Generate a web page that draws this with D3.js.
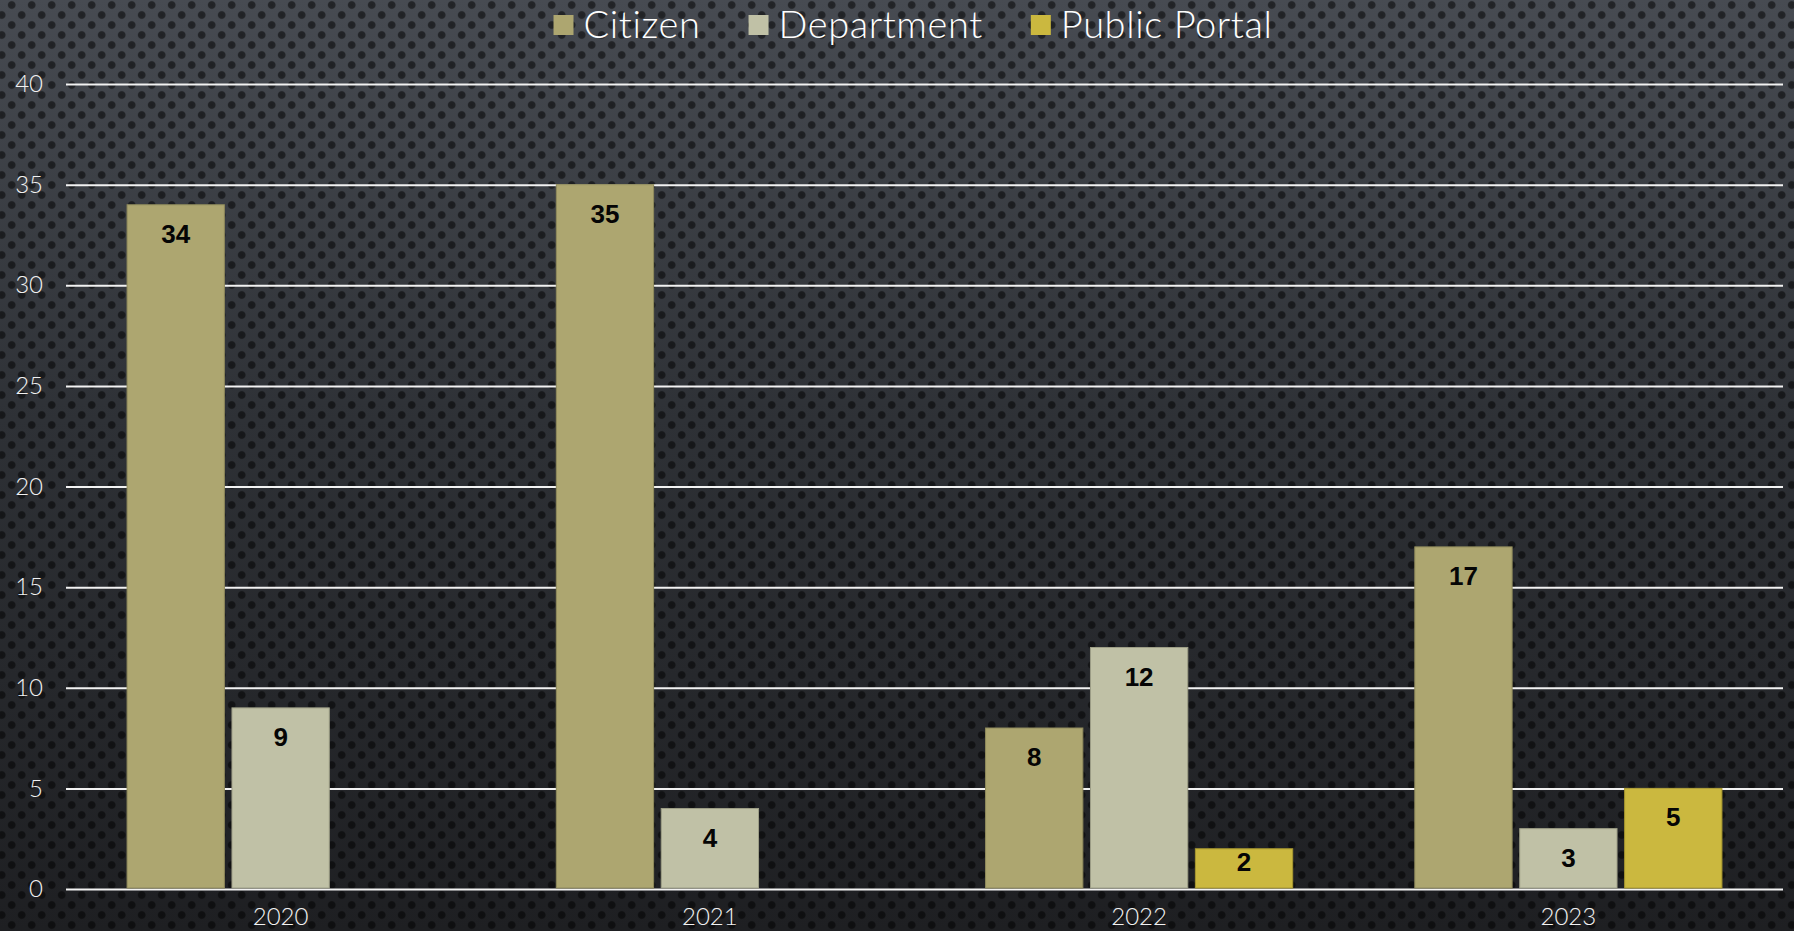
<!DOCTYPE html>
<html>
<head>
<meta charset="utf-8">
<script src="https://cdn.jsdelivr.net/npm/d3@7"></script>
<style>
  html, body { margin: 0; padding: 0; background: #1d1e21; overflow: hidden; }
  svg { display: block; }
</style>
</head>
<body>
<svg id="chart" width="1794" height="931"></svg>
<script>
// Requests handled per year, by channel
const years = ["2020", "2021", "2022", "2023"];
const seriesNames = ["Citizen", "Department", "Public Portal"];
const citizen = [34, 35, 8, 17];
const department = [9, 4, 12, 3];
const publicPortal = [null, null, 2, 5];
const yTicks = [0, 5, 10, 15, 20, 25, 30, 35, 40];
const seriesColors = ["#ada670", "#c0c1a6", "#cbb83f"];
const seriesStrokes = ["#8f8a5c", "#9d9e86", "#a8982f"];

const seriesValues = [citizen, department, publicPortal];

const W = 1794, H = 931;
const margin = { left: 66, right: 11, top: 84, bottom: 42 };
const svg = d3.select("#chart");
const defs = svg.append("defs");

// Perforated dark-metal backdrop
const grad = defs.append("linearGradient")
  .attr("id", "bgGrad").attr("x1", 0).attr("y1", 0).attr("x2", 0).attr("y2", 1);
grad.append("stop").attr("offset", "0%").attr("stop-color", "#474b52");
grad.append("stop").attr("offset", "45%").attr("stop-color", "#2e3136");
grad.append("stop").attr("offset", "100%").attr("stop-color", "#1e1f22");

const rg = defs.append("radialGradient").attr("id", "holeGrad");
rg.append("stop").attr("offset", "0%").attr("stop-color", "#000").attr("stop-opacity", 0.55);
rg.append("stop").attr("offset", "75%").attr("stop-color", "#000").attr("stop-opacity", 0.5);
rg.append("stop").attr("offset", "100%").attr("stop-color", "#000").attr("stop-opacity", 0.1);

const pat = defs.append("pattern")
  .attr("id", "perf").attr("patternUnits", "userSpaceOnUse")
  .attr("width", 20).attr("height", 20);
pat.append("circle").attr("cx", 11.7).attr("cy", 5).attr("r", 4.3).attr("fill", "url(#holeGrad)");
pat.append("circle").attr("cx", 1.7).attr("cy", 15).attr("r", 4.3).attr("fill", "url(#holeGrad)");
pat.append("circle").attr("cx", 21.7).attr("cy", 15).attr("r", 4.3).attr("fill", "url(#holeGrad)");

svg.append("rect").attr("width", W).attr("height", H).attr("fill", "url(#bgGrad)");
svg.append("rect").attr("width", W).attr("height", H).attr("fill", "url(#perf)");

// Scales
const x0 = d3.scaleBand()
  .domain(years)
  .range([margin.left, W - margin.right])
  .paddingInner(0).paddingOuter(0);

const x1 = d3.scaleBand()
  .domain(seriesNames)
  .range([0, x0.bandwidth()])
  .paddingInner(0.0725)
  .paddingOuter(0.582);

const y = d3.scaleLinear()
  .domain([0, 40])
  .range([H - margin.bottom, margin.top]);

const textFont = "Lato, 'Open Sans', sans-serif";

// Horizontal gridlines
const yAxis = d3.axisLeft(y).tickValues(yTicks).tickSize(-(W - margin.left - margin.right)).tickPadding(23);
const yg = svg.append("g")
  .attr("transform", `translate(${margin.left},0)`)
  .call(yAxis);
yg.select(".domain").remove();
yg.selectAll(".tick line").attr("stroke", "#f2f2f2").attr("stroke-width", 2);
yg.selectAll(".tick text")
  .attr("fill", "#f2f2f2")
  .style("font-family", textFont)
  .style("font-size", "24px")
  .style("font-weight", 300);

// Year labels
const xAxis = d3.axisBottom(x0).tickSize(0).tickPadding(19);
const xg = svg.append("g")
  .attr("transform", `translate(0,${H - margin.bottom})`)
  .call(xAxis);
xg.select(".domain").remove();
xg.selectAll(".tick text")
  .attr("fill", "#f2f2f2")
  .style("font-family", textFont)
  .style("font-size", "24px")
  .style("font-weight", 300);

// Bars
const rows = [];
years.forEach((yr, i) => {
  seriesNames.forEach((s, j) => {
    const v = seriesValues[j][i];
    if (v !== null && v !== undefined) rows.push({ year: yr, series: s, idx: j, value: v });
  });
});

const barG = svg.append("g");
barG.selectAll("rect")
  .data(rows)
  .join("rect")
  .attr("x", d => x0(d.year) + x1(d.series))
  .attr("y", d => y(d.value))
  .attr("width", x1.bandwidth())
  .attr("height", d => y(0) - y(d.value) - 1)
  .attr("fill", d => seriesColors[d.idx])
  .attr("stroke", d => seriesStrokes[d.idx])
  .attr("stroke-width", 1);

// Value labels inside the bar tops
barG.selectAll("text")
  .data(rows)
  .join("text")
  .attr("x", d => x0(d.year) + x1(d.series) + x1.bandwidth() / 2)
  .attr("y", d => Math.min(y(d.value) + 38, y(0) - 18))
  .attr("text-anchor", "middle")
  .attr("fill", "#050505")
  .style("font-family", "'Liberation Sans', Arial, sans-serif")
  .style("font-weight", 700)
  .style("font-size", "26px")
  .text(d => d.value);

// Legend
const legend = svg.append("g");
const items = legend.selectAll("g").data(seriesNames).join("g");
items.append("rect")
  .attr("width", 20).attr("height", 20)
  .attr("y", 15)
  .attr("fill", (d, i) => seriesColors[i]);
items.append("text")
  .attr("x", 30)
  .attr("y", 38)
  .attr("fill", "#ffffff")
  .style("font-family", textFont)
  .style("font-size", "38px")
  .style("letter-spacing", "0.6px")
  .style("font-weight", 300)
  .text(d => d);

const widths = [];
items.each(function () {
  widths.push(30 + this.querySelector("text").getComputedTextLength());
});
const gap = 48;
const total = d3.sum(widths) + gap * (widths.length - 1);
let start = 913 - total / 2;
items.attr("transform", (d, i) => {
  const t = `translate(${start},0)`;
  start += widths[i] + gap;
  return t;
});
</script>
</body>
</html>
